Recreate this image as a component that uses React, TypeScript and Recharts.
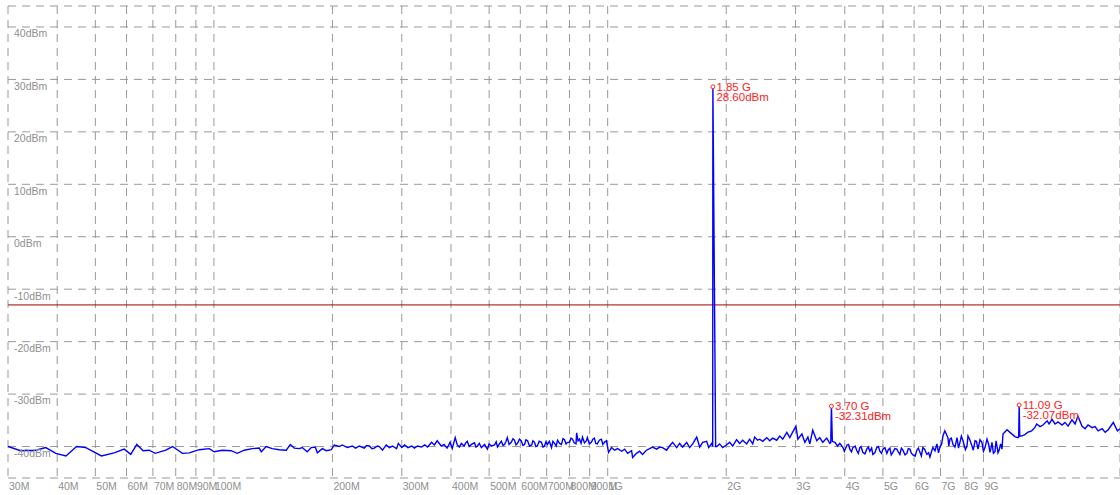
import React from "react";
import {
  LineChart,
  Line,
  XAxis,
  YAxis,
  CartesianGrid,
  ReferenceLine,
  ReferenceDot,
} from "recharts";

// frequency in MHz, level in dBm
const traceLow: [number, number][] = [
  [30, -40.0], [32.3, -40.8], [35.3, -40.7], [37.4, -40.2], [39.7, -41.3], [42.1, -41.8],
  [44.8, -40.0], [47.3, -40.2], [51.8, -41.8], [55.8, -41.2], [59.2, -40.5], [61.5, -41.5],
  [63.7, -39.6], [66.1, -40.8], [68.5, -40.7], [70.9, -41.3], [75.5, -40.7], [78.5, -40.0],
  [83.2, -41.3], [86.6, -41.2], [91.8, -40.6], [97.3, -40.4], [100.2, -41.0], [105, -40.7],
  [110.6, -40.8], [114.6, -41.3], [119.4, -40.7], [125.2, -40.4], [130.4, -40.3], [131.9, -41.0],
  [135.8, -40.0], [140.7, -40.4], [146.6, -40.6], [152.7, -40.7], [156.3, -39.6], [160, -40.3],
  [164.7, -40.4], [167.6, -40.2], [172.6, -41.0], [176.7, -40.2], [180.9, -40.1], [183.1, -41.2],
  [188.5, -40.4], [192.9, -40.8], [198.7, -40.6], [202.2, -39.7], [208.2, -40.0], [211.9, -39.7],
  [218.2, -40.2], [224.6, -39.9], [229, -40.3], [234, -39.9], [241, -40.3], [244, -39.8],
  [248.2, -39.9], [252, -40.4], [255.5, -40.3], [260.1, -39.9],
];

const traceMid: [number, number][] = [
  [263, -40.0], [268, -40.7], [274, -39.7], [279, -40.2], [284, -39.9], [291, -40.4],
  [294, -39.4], [300, -40.2], [305, -39.7], [311, -40.2], [318, -39.9], [323, -40.3],
  [329, -39.9], [337, -40.1], [343, -39.7], [349, -40.1], [357, -39.2], [363, -39.7],
  [369, -38.9], [378, -39.9], [384, -39.6], [391, -40.3], [398, -39.2], [403, -40.4],
  [410, -38.3], [415, -39.7], [420, -40.1], [425, -39.4], [432, -39.9], [436, -39.3],
  [440, -39.0], [445, -40.0], [451, -39.6], [459, -39.3], [463, -40.1], [467, -39.9],
  [472, -39.4], [478, -40.2], [487, -39.6], [491, -40.1], [495, -40.5], [500, -39.5],
  [507, -39.9], [516, -39.7], [521, -39.1], [525, -40.1], [531, -39.5], [537, -39.0],
  [542, -39.8], [547, -39.6], [552, -39.0], [556, -38.3], [562, -39.6], [569, -39.2],
  [575, -38.5], [580, -38.8], [585, -39.7], [590, -39.4], [597, -38.6], [603, -38.9],
  [609, -39.8], [615, -39.6], [620, -38.7], [626, -38.9], [633, -39.9], [641, -39.7],
  [646, -38.9], [652, -39.2], [657, -40.0], [663, -39.9], [670, -39.0], [679, -39.2],
  [685, -40.1], [691, -39.9], [697, -39.1], [703, -39.6], [711, -39.0], [720, -40.2],
  [726, -39.0], [733, -39.4], [740, -39.9], [746, -38.8], [755, -39.4], [763, -39.6],
  [770, -38.5], [777, -38.7], [784, -39.5], [791, -39.2], [800, -39.2], [807, -38.4],
  [814, -38.6], [822, -39.3], [831, -39.5], [834, -37.4], [841, -38.9], [848, -38.6],
  [856, -39.4], [863, -38.2], [873, -39.3], [883, -38.9], [888, -38.3], [898, -39.5],
  [909, -39.2], [917, -38.6], [925, -38.4], [933, -39.4], [941, -39.5], [952, -38.8],
  [964, -38.6], [972, -39.6], [981, -39.2], [993, -38.9],
];

const traceHigh: [number, number][] = [
  [1005, -41.1], [1023, -40.2], [1041, -40.7], [1060, -40.4], [1085, -40.9], [1104, -40.5],
  [1124, -41.3], [1150, -40.8], [1157, -42.1], [1184, -41.3], [1205, -40.9], [1226, -41.5],
  [1254, -40.7], [1278, -40.4], [1300, -40.1], [1331, -40.5], [1355, -40.1], [1379, -40.2],
  [1411, -40.7], [1436, -39.9], [1462, -39.2], [1497, -40.2], [1523, -39.4], [1550, -40.1],
  [1587, -39.2], [1615, -40.2], [1644, -39.5], [1683, -38.2], [1712, -40.1], [1743, -39.2],
  [1784, -39.0], [1805, -40.2], [1838, -39.4], [1848, -40.0], [1850, 28.6], [1880, -40.0],
  [1893, -40.0], [1925, -39.5], [1958, -40.2], [2002, -39.7], [2041, -39.2], [2077, -39.9],
  [2125, -38.7], [2164, -39.4], [2202, -38.8], [2254, -39.5], [2294, -38.6], [2335, -39.5],
  [2362, -38.2], [2403, -38.8], [2433, -38.6], [2476, -39.0], [2535, -38.3], [2579, -38.9],
  [2625, -38.4], [2686, -38.8], [2735, -38.0], [2784, -38.6], [2851, -37.3], [2900, -38.3],
  [2952, -37.2], [3006, -36.1], [3041, -38.6], [3113, -37.6], [3168, -39.2], [3224, -38.2],
  [3260, -39.5], [3317, -36.9], [3396, -38.9], [3456, -38.3], [3517, -39.2], [3600, -38.4],
  [3665, -39.4], [3685, -39.3], [3700, -32.31], [3720, -39.0], [3776, -39.2], [3834, -39.9],
  [3886, -39.4], [3959, -40.2], [3990, -40.9], [4055, -39.7], [4090, -39.6], [4120, -40.5],
  [4160, -41.0], [4194, -40.2], [4250, -39.9], [4294, -40.8], [4330, -41.3], [4368, -40.2],
  [4400, -40.0], [4444, -41.1], [4500, -41.4], [4550, -40.5], [4590, -40.1], [4632, -40.9],
  [4680, -40.3], [4715, -41.5], [4770, -41.2], [4823, -40.2], [4870, -40.0], [4911, -40.9],
  [4960, -41.3], [5000, -40.5], [5060, -40.2], [5117, -41.3], [5160, -40.6], [5207, -40.3],
  [5250, -41.6], [5299, -41.1], [5360, -40.4], [5424, -40.5], [5470, -41.0], [5522, -41.5],
  [5570, -40.3], [5620, -40.7], [5690, -41.6], [5752, -41.3], [5800, -40.4], [5855, -40.5],
  [5900, -41.2], [5958, -41.6], [6040, -41.8], [6096, -40.7], [6150, -40.3], [6208, -41.1],
  [6260, -41.8], [6317, -40.2], [6390, -40.6], [6464, -41.5], [6530, -41.2], [6582, -42.0],
  [6640, -41.0], [6697, -40.2], [6780, -40.8], [6857, -39.5], [6920, -41.2], [6979, -40.1],
  [7050, -39.5], [7102, -38.0], [7180, -37.0], [7312, -38.3],
];

const traceTop: [number, number][] = [
  [7350, -39.9], [7399, -38.6], [7460, -38.4], [7531, -39.6], [7620, -40.1], [7711, -38.3],
  [7780, -40.3], [7845, -39.2], [7910, -38.0], [7986, -38.9], [8100, -40.6], [8175, -39.9],
  [8222, -38.0], [8300, -38.6], [8418, -39.9], [8480, -40.7], [8569, -38.9], [8640, -39.0],
  [8718, -40.5], [8820, -38.7], [8920, -39.2], [9000, -40.9], [9081, -40.2], [9130, -39.5],
  [9190, -38.6], [9280, -39.6], [9351, -41.1], [9400, -40.4], [9461, -39.2], [9540, -41.3],
  [9627, -41.0], [9690, -38.9], [9740, -39.9], [9800, -41.2], [9855, -40.8], [9950, -39.5],
  [10030, -40.5], [10090, -37.6], [10330, -36.8], [10510, -37.3], [10820, -38.1], [11010, -38.3],
  [11060, -38.2], [11090, -32.07], [11130, -38.0], [11230, -38.0], [11440, -37.8], [11650, -37.3],
  [11930, -37.0], [12150, -36.4], [12290, -35.7], [12530, -36.2], [12750, -35.9], [13060, -35.1],
  [13210, -35.7], [13440, -34.8], [13680, -35.7], [13920, -35.3], [14250, -35.9], [14500, -35.4],
  [14760, -36.1], [15100, -34.9], [15380, -35.7], [15640, -34.2], [16010, -36.1], [16300, -36.6],
  [16590, -35.9], [16990, -36.4], [17290, -36.2], [17600, -37.0], [18020, -36.6], [18340, -37.3],
  [18670, -36.8], [19110, -35.7], [19230, -35.4], [19700, -37.0], [20000, -36.6],
];

const freqTicks = [
  30, 40, 50, 60, 70, 80, 90, 100, 200, 300, 400, 500, 600, 700, 800, 900,
  1000, 2000, 3000, 4000, 5000, 6000, 7000, 8000, 9000,
];
const levelTicks = [-46, -40, -30, -20, -10, 0, 10, 20, 30, 40, 44];
const limitLevel = -13;

const markerFreqs = [1850, 3700, 11090];
const markerLevels = [28.6, -32.31, -32.07];
const markerFreqText = ["1.85 G", "3.70 G", "11.09 G"];

const data = [...traceLow, ...traceMid, ...traceHigh, ...traceTop]
  .map(([f, v]) => ({ f, v }))
  .sort((a, b) => a.f - b.f);

const PLOT_LEFT = 8;
const FONT = "'Liberation Sans', Arial, sans-serif";
const LABEL = "#8f8f8f";
const MARK = "#ff2222";

const fmtFreq = (v: number) => (v < 1000 ? `${v}M` : `${v / 1000}G`);

const XTick = ({ x, y, payload }: any) => (
  <text x={x + 1} y={y + 11.5} fill={LABEL} fontSize={10.5} fontFamily={FONT}>
    {fmtFreq(payload.value)}
  </text>
);

const YTick = ({ y, payload }: any) =>
  payload.value % 10 === 0 ? (
    <text x={PLOT_LEFT + 6} y={y + 10.3} fill={LABEL} fontSize={10.5} fontFamily={FONT} textAnchor="start">
      {`${payload.value}dBm`}
    </text>
  ) : (
    <g />
  );

const Marker = ({ cx, cy, freqText, level }: any) => (
  <g>
    <circle cx={cx} cy={cy} r={2} fill="#fff" stroke={MARK} strokeWidth={1} />
    <text x={cx + 3.5} y={cy + 3.8} fill={MARK} fontSize={11.5} fontFamily={FONT}>
      {freqText}
    </text>
    <text x={cx + 3.5} y={cy + 13.8} fill={MARK} fontSize={11.5} fontFamily={FONT}>
      {`${level.toFixed(2)}dBm`}
    </text>
  </g>
);

export default function App() {
  return (
    <div style={{ position: "absolute", left: 0, top: 0, background: "#fff" }}>
      <LineChart width={1120} height={495} data={data} margin={{ top: 6, right: 0, left: PLOT_LEFT - 1, bottom: 0 }}>
        <CartesianGrid stroke="#999" strokeDasharray="8 6" />
        <XAxis
          dataKey="f"
          type="number"
          scale="log"
          domain={[30, 20000]}
          ticks={freqTicks}
          allowDataOverflow
          axisLine={false}
          tickLine={false}
          tickSize={0}
          tickMargin={0}
          height={17}
          interval={0}
          tick={<XTick />}
        />
        <YAxis
          type="number"
          domain={[-46, 44]}
          ticks={levelTicks}
          allowDataOverflow
          axisLine={false}
          tickLine={false}
          tickSize={0}
          tickMargin={0}
          width={1}
          interval={0}
          tick={<YTick />}
        />
        <ReferenceLine y={limitLevel} stroke="#a00000" strokeWidth={1} />
        <Line
          dataKey="v"
          type="linear"
          stroke="#0000ff"
          strokeWidth={1.4}
          dot={false}
          isAnimationActive={false}
        />
        {markerFreqs.map((f, i) => (
          <ReferenceDot
            key={f}
            x={f}
            y={markerLevels[i]}
            r={2}
            shape={(p: any) => <Marker {...p} freqText={markerFreqText[i]} level={markerLevels[i]} />}
          />
        ))}
      </LineChart>
    </div>
  );
}
